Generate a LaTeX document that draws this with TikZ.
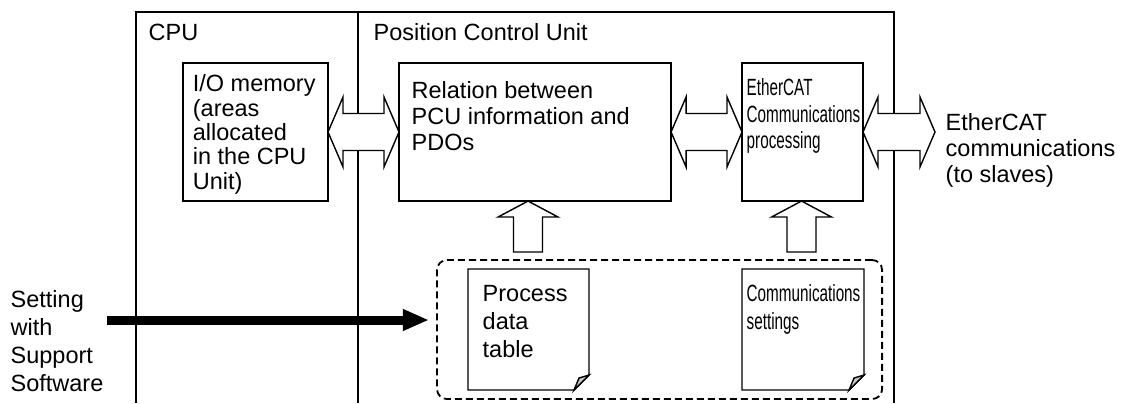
\documentclass[tikz,border=0pt]{standalone}
\usepackage{fontspec}
\setmainfont{Liberation Sans}
\newfontfamily\narrowfont[FakeStretch=0.65]{Liberation Sans}
\usetikzlibrary{arrows.meta,calc,positioning}
\definecolor{foldgray}{HTML}{C8C8C8}

\newcommand\mainsize{\fontsize{16.7}{18.5}\selectfont}
\newcommand\narrowsize{\narrowfont\fontsize{16.7}{18.8}\selectfont}

% hollow double arrow between two tips on one height
\newcommand\hollowpair[2]{%
  \draw[hollow] (#1) -- ($(#1)+(15,-35)$) -- ($(#1)+(15,-18.5)$) -- ($(#2)+(-15,-18.5)$)
    -- ($(#2)+(-15,-35)$) -- (#2) -- ($(#2)+(-15,35)$) -- ($(#2)+(-15,18.5)$)
    -- ($(#1)+(15,18.5)$) -- ($(#1)+(15,35)$) -- cycle;}
% hollow arrow pointing up to a tip
\newcommand\hollowup[1]{%
  \draw[hollow] (#1) -- ($(#1)+(30,16)$) -- ($(#1)+(14.5,16)$) -- ($(#1)+(14.5,51)$)
    -- ($(#1)+(-14.5,51)$) -- ($(#1)+(-14.5,16)$) -- ($(#1)+(-30,16)$) -- cycle;}
% sheet with a folded corner
\newcommand\dogear[1]{%
  \draw[edge] (#1.north west) -- (#1.north east) -- ($(#1.south east)+(0,-15)$)
    -- ($(#1.south east)+(-15,0)$) -- (#1.south west) -- cycle;
  \draw[edge, fill=foldgray] ($(#1.south east)+(0,-15)$) -- ($(#1.south east)+(-15,0)$)
    -- ($(#1.south east)+(-10,-12)$) -- cycle;}

\begin{document}
\begin{tikzpicture}[
  x=0.025cm, y=-0.025cm,
  line width=1pt,
  edge/.style={draw, line width=1pt},
  box/.style={draw, line width=1pt, anchor=north west, minimum height=3.45cm, inner sep=0pt, outer sep=0pt},
  note/.style={anchor=north west, minimum height=3.025cm, inner sep=0pt, outer sep=0pt},
  intext/.style={anchor=north west, align=left, inner xsep=0.25cm, inner ysep=0.38cm, font=\mainsize},
  narrowtext/.style={anchor=north west, align=left, inner xsep=0.1cm, inner ysep=0.38cm, font=\narrowsize},
  plain/.style={anchor=north west, align=left, inner sep=0pt, font=\mainsize},
  group/.style={draw, line width=1.3pt, dash pattern=on 0.175cm off 0.1cm, rounded corners=0.25cm, anchor=north west, inner sep=0pt, outer sep=0pt},
  hollow/.style={draw, fill=white, line width=1pt, line join=miter},
  setarrow/.style={-{Triangle[length=0.65cm, width=0.5cm]}, line width=0.225cm, shorten >=0.2cm}
]
  \useasboundingbox (0,0) rectangle (1127,403);

  % units
  \draw[edge] (136,403) |- (894,12) -- (894,403);
  \draw[edge] (358,12) -- (358,403);
  \node[plain] (cpu) at (148,23) {CPU};
  \node[plain] (pcu) at (373,23) {Position Control Unit};

  % blocks
  \node[box, minimum width=3.625cm, label={[intext, inner xsep=0.23cm, inner ysep=0.275cm, font=\fontsize{16.7}{17.3}\selectfont]north west:{I/O memory\\(areas\\allocated\\in the CPU\\Unit)}}] (io) at (183,63) {};
  \node[box, minimum width=6.8cm, label={[intext, inner xsep=0.3cm, inner ysep=0.45cm]north west:{Relation between\\PCU information and\\PDOs}}] (rel) at (399,63) {};
  \node[box, minimum width=3.025cm, label={[narrowtext]north west:{EtherCAT\\Communications\\processing}}] (ecat) at (742,63) {};

  % settings
  \node[group, minimum width=11.125cm, minimum height=3.475cm] (grp) at (437,260) {};
  \node[note, minimum width=3.025cm, label={[intext, inner xsep=0.35cm, inner ysep=0.4cm, font=\fontsize{16.7}{19.9}\selectfont]north west:{Process\\data\\table}}] (pdt) at (468,269) {};
  \node[note, minimum width=3.05cm, label={[narrowtext, font=\narrowfont\fontsize{16.7}{19.9}\selectfont]north west:{Communications\\settings}}] (comm) at (742,269) {};
  \dogear{pdt}
  \dogear{comm}

  % outside
  \node[plain, font=\fontsize{16.7}{19.9}\selectfont] (setting) at (10,290) {Setting\\with\\Support\\Software};
  \node[plain] (slaves) at (945,113) {EtherCAT\\communications\\(to slaves)};
  \coordinate (bus) at (935,132);
  \coordinate (swstart) at (107,320);

  % data flow
  \hollowpair{io.east}{rel.west}
  \hollowpair{rel.east}{ecat.west}
  \hollowpair{ecat.east}{ecat.east -| bus}
  \coordinate (reltip) at ($(rel.south)+(-7,0)$);
  \coordinate (ecattip) at ($(ecat.south)+(-1,0)$);
  \hollowup{reltip}
  \hollowup{ecattip}
  \draw[setarrow] (swstart) -- (swstart -| grp.west);
\end{tikzpicture}
\end{document}
